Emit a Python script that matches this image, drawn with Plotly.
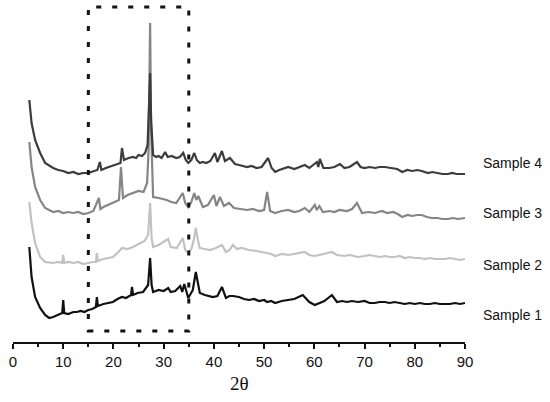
import plotly.graph_objects as go

# 2-theta positions and intensities (arbitrary units, stacked offsets)
s4_x = [3.25, 3.7, 4.4, 5.4, 6.4, 8.0, 9, 10, 11, 12, 13, 14, 15, 16, 16.8, 17.3, 17.6, 18.5, 19.5, 20.5, 21.4,
        21.7, 22.1, 23, 23.9, 24.5, 25, 25.7, 26.3, 26.8, 27.1, 27.3, 27.5, 27.9, 28.5, 29, 29.6, 30.3, 30.8,
        31.6, 32.5, 33.2, 33.9, 34.4, 34.9, 35.5, 36.1, 36.6, 37.2, 37.8, 38.5, 39.3, 40.2, 40.7, 41.6, 42.2,
        43.2, 44.2, 45, 45.8, 46.6, 47.5, 48.5, 49.5, 50.8, 51.5, 52.2, 53, 54, 54.8, 56, 57, 58.1, 59, 60.5,
        60.8, 61.1, 61.8, 63, 64, 65.1, 66, 67, 68.5, 69.2, 70, 71, 72.1, 73, 74, 75.5, 76.5, 77.5, 78.5, 79.5,
        80.5, 81.4, 82.6, 83.5, 84.5, 85.5, 86.6, 87.5, 88.3, 89.2, 90]
s4_y = [242, 219, 202, 189, 179, 174, 172, 171, 169, 170, 168, 169, 169, 171, 172, 180, 172, 174, 176, 178, 179,
        194, 182, 184, 185, 184, 187, 186, 189, 197, 232, 269, 222, 187, 185, 186, 184, 190, 185,
        186, 184, 185, 189, 182, 179, 182, 189, 182, 179, 180, 179, 181, 189, 180, 191, 181,
        184, 178, 177, 176, 175, 176, 174, 175, 184, 174, 170, 172, 174, 175, 173, 175, 177, 174, 180,
        175, 183, 174, 174, 175, 178, 174, 175, 180, 175, 174, 175, 174, 175, 175, 174, 173, 170, 172, 171,
        172, 171, 169, 170, 169, 168, 168, 169, 168, 168, 168]

s3_x = [3.25, 3.7, 4.4, 5.4, 6.4, 8.0, 9, 10, 11, 12, 13, 14, 15, 16, 17.1, 17.4, 18, 19, 20, 21.1, 21.5, 21.9,
        22.8, 23.9, 25, 26, 26.7, 27.0, 27.3, 27.5, 27.9, 29, 30.6, 31.5, 32.5, 33.8, 34.3, 34.9, 35.5, 36.1,
        36.5, 36.9, 37.8, 38.8, 40.0, 40.5, 41.2, 42, 43.0, 44, 45, 46.6, 47.8, 49, 50.0, 50.6, 51.2, 52.2,
        53.5, 54.8, 56, 57, 58.1, 59, 60.1, 60.5, 61.0, 61.7, 63, 64, 65, 66.5, 67.5, 68.5, 69.5, 70.8, 72.1,
        73.5, 74.5, 75.7, 76.6, 77.5, 78.5, 79.5, 80.5, 81.4, 82.4, 83.4, 84.5, 85.5, 86.6, 87.6, 88.6, 90]
s3_y = [200, 175, 155, 142, 134, 130, 131, 129, 130, 129, 130, 128, 129, 131, 144, 133, 135, 137, 139, 142, 175, 144,
        147, 149, 151, 150, 159, 192, 319, 212, 145, 144, 142, 140, 139, 149, 139, 135, 140, 149,
        142, 146, 135, 137, 147, 136, 145, 136, 139, 134, 133, 132, 133, 131, 132, 150, 131, 129,
        131, 132, 130, 131, 134, 130, 137, 132, 136, 130, 131, 130, 132, 131, 133, 139, 129, 130, 129,
        131, 129, 130, 128, 125, 127, 126, 127, 127, 125, 124, 124, 123, 123, 124, 123, 124]

s2_x = [3.25, 3.7, 4.4, 5.4, 6.4, 8.0, 9, 9.8, 10.0, 10.2, 11, 12, 13, 14, 15, 15.8, 16.5, 16.7, 16.9, 18, 19,
        19.9, 20.8, 21.7, 22.8, 23.9, 25, 26.2, 26.9, 27.3, 27.6, 27.9, 29, 30.9, 31.4, 32.6, 33.8, 34.3, 34.9,
        35.5, 36.0, 36.4, 36.9, 37.2, 38.2, 39.2, 40.4, 41.6, 42.4, 43.1, 43.8, 44.6, 45.5, 47, 48.5, 49.5,
        50.6, 51.4, 52.2, 53.5, 54.8, 56, 57, 58.1, 59, 60, 61, 62, 63.5, 64.5, 66, 67, 68.7, 70, 71, 72, 73,
        74, 75, 76, 77, 78, 79, 80, 81, 82, 83, 84, 85, 86, 87, 88, 89, 90]
s2_y = [140, 119, 99, 85, 80, 79, 80, 79, 87, 79, 80, 79, 80, 78, 79, 80, 80, 89, 81, 83, 84,
        85, 89, 94, 93, 95, 98, 101, 107, 139, 104, 95, 97, 103, 95, 94, 104, 92, 89,
        93, 102, 114, 100, 94, 93, 92, 94, 97, 90, 92, 97, 93, 94, 92, 91, 90,
        89, 88, 86, 88, 87, 88, 89, 90, 87, 86, 87, 88, 90, 87, 86, 87, 85, 86, 87, 86, 85,
        86, 85, 85, 86, 84, 85, 84, 84, 83, 84, 83, 83, 83, 84, 83, 82, 83]

s1_x = [3.25, 3.7, 4.4, 5.4, 6.4, 7.2, 8.0, 8.8, 9.8, 10.0, 10.2, 11, 12, 12.7, 13.5, 14.2, 15, 15.8, 16.5, 16.7,
        16.9, 18, 19, 19.9, 20.8, 21.7, 22.5, 23.5, 23.7, 23.9, 24.8, 25.9, 26.9, 27.3, 27.6, 27.9, 29, 30.0,
        30.9, 31.4, 32.3, 33.3, 33.7, 34.1, 34.9, 35.8, 36.4, 37.0, 37.2, 38.2, 39.0, 39.8, 40.7, 41.6, 42.4,
        43.1, 43.8, 45, 46, 47, 48, 49, 50, 50.6, 51.4, 52.2, 53.5, 54.8, 56, 57.7, 59, 60.1, 61, 62, 63.5,
        64.5, 65.5, 66.5, 67.5, 68.7, 70, 71, 72, 73, 74, 75, 76, 77, 78, 79, 80, 81, 82, 83, 84, 85, 86, 87,
        88, 89, 90]
s1_y = [95, 65, 45, 34, 27, 24, 25, 27, 29, 42, 29, 28, 30, 30, 31, 30, 32, 33, 35, 45,
        36, 38, 39, 40, 43, 45, 44, 47, 55, 47, 49, 50, 57, 84, 57, 50, 52, 51,
        54, 50, 51, 56, 50, 58, 44, 52, 70, 52, 49, 47, 46, 45, 46, 55, 44,
        46, 46, 45, 43, 42, 43, 41, 42, 40, 41, 39, 41, 42, 43, 47, 40, 37, 39, 41, 47,
        40, 41, 40, 41, 40, 41, 39, 39, 40, 40, 39, 40, 39, 38, 39, 38, 39, 38, 38, 39, 38, 38, 38,
        39, 38, 39]

labels = ["Sample 1", "Sample 2", "Sample 3", "Sample 4"]
label_y = [27, 77, 129, 179]
x_ticks = [0, 10, 20, 30, 40, 50, 60, 70, 80, 90]
box_x = [15, 35]
box_y = [11, 335]

series = [(s1_x, s1_y, "#111111"), (s2_x, s2_y, "#c2c2c2"), (s3_x, s3_y, "#858585"), (s4_x, s4_y, "#3c3c3c")]

fig = go.Figure()
for (xs, ys, col), name in zip(series, labels):
    fig.add_trace(go.Scatter(x=xs, y=ys, mode="lines", name=name,
                             line=dict(color=col, width=2.2), showlegend=False))

fig.add_shape(type="rect", xref="x", yref="y", x0=box_x[0], x1=box_x[1], y0=box_y[0], y1=box_y[1],
              line=dict(color="#111111", width=3, dash="5px,11px"), fillcolor="rgba(0,0,0,0)")

for name, yv in zip(labels, label_y):
    fig.add_annotation(text=name, xref="paper", x=1.035, yref="y", y=yv, xanchor="left", yanchor="middle",
                       showarrow=False, font=dict(family="Liberation Sans", size=14, color="#111111"))

fig.add_annotation(text="2θ", xref="paper", x=0.5, yref="paper", y=-0.12, xanchor="center", yanchor="middle",
                   showarrow=False, font=dict(family="Liberation Serif", size=19, color="#111111"))

fig.update_layout(
    width=550, height=402,
    margin=dict(l=13, r=85, t=0, b=60),
    paper_bgcolor="white", plot_bgcolor="white",
    xaxis=dict(range=[0, 90], tickvals=x_ticks, ticks="outside", ticklen=5, tickwidth=1.5, tickcolor="#111111",
               showline=True, linecolor="#111111", linewidth=1.5, showgrid=False, zeroline=False,
               minor=dict(dtick=5, ticks="outside", ticklen=3, tickwidth=1.5, tickcolor="#111111"),
               tickfont=dict(family="Liberation Sans", size=15, color="#111111")),
    yaxis=dict(range=[0, 342], visible=False, showgrid=False, zeroline=False),
)

fig.write_html("out.html", config={"displayModeBar": False},
               post_script="document.body.style.margin='0';document.body.style.overflow='hidden';")
